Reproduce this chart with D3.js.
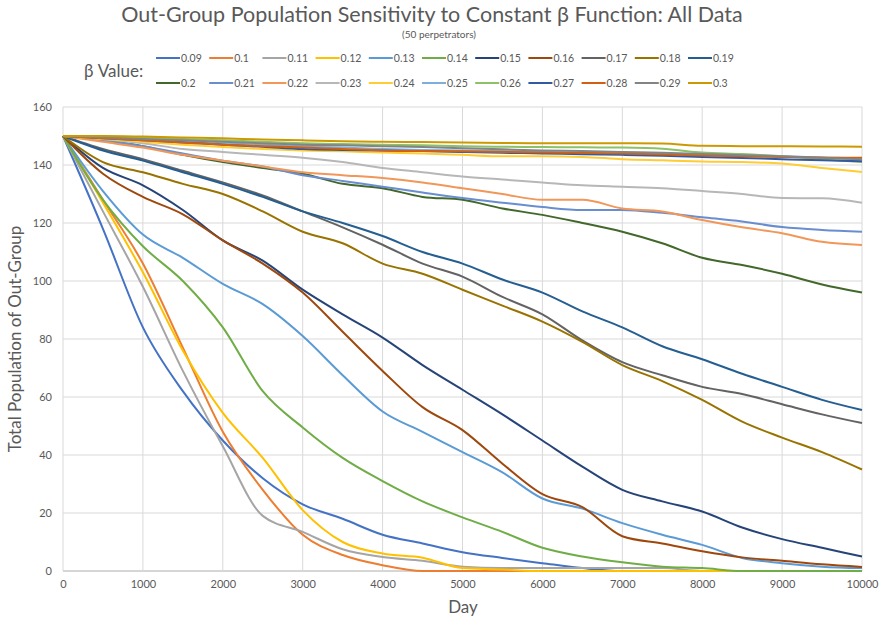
<!DOCTYPE html>
<html>
<head>
<meta charset="utf-8">
<script src="https://cdn.jsdelivr.net/npm/d3@7"></script>
<style>
  body { margin: 0; background: #fff; }
  svg { display: block; font-family: Lato, "Open Sans", sans-serif; }
</style>
</head>
<body>
<svg id="chart" width="880" height="622"></svg>
<script>
// days sampled every 500
var days = [0,500,1000,1500,2000,2500,3000,3500,4000,4500,5000,5500,6000,6500,7000,7500,8000,8500,9000,9500,10000]
var betas = ['0.09','0.1','0.11','0.12','0.13','0.14','0.15','0.16','0.17','0.18','0.19',
             '0.2','0.21','0.22','0.23','0.24','0.25','0.26','0.27','0.28','0.29','0.3']
var colors = ['#4472C4','#ED7D31','#A5A5A5','#FFC000','#5B9BD5','#70AD47','#264478','#9E480E','#636363','#997300','#255E91',
              '#43682B','#698ED0','#F1975A','#B7B7B7','#FFCD33','#7CAFDD','#8CC168','#335AA1','#D26012','#848484','#CC9A00']

var b009 = [150,118,84,62,45,32,23,18,12.5,9.5,6.5,4.5,2.7,1,0,0,0,0,0,0,0]
var b010 = [150,128,106,77,48,28,12.5,5.5,2,0,0,0,0,0,0,0,0,0,0,0,0]
var b011 = [150,124,98,69,43,19,13.5,7.5,4.8,3.5,1.5,1,1,1,1,1,0,0,0,0,0]
var b012 = [150,127,103,76,54.5,39,21,10,6,4.6,1,0.5,0,0,0,0,0,0,0,0,0]
var b013 = [150,131,116,108,99,92,81,67.5,55,48,41,34,25,21.5,16.5,12.5,9,4.5,2.7,1.5,1]
var b014 = [150,128,112,100,84,62,49.5,39,31,24,18.5,13.5,8,5,3,1.5,1,0,0,0,0]
var b015 = [150,139,133,124.5,114,107,97,88.5,80.5,71,62.5,54,45,36,28,24,20.5,15,11,8,5]
var b016 = [150,137,129,123,114,106,96,82.5,69,56.5,48.6,37,26.5,22,12,9.5,6.8,4.7,3.5,2.3,1.4]
var b017 = [150,145.5,142,138,134,129.5,124,118.5,112.5,106,101.5,94.5,88.5,79.5,72,67.5,63.5,61,57.5,54,51]
var b018 = [150,141,137.5,133.5,130,124,117,113,106,102.5,97,91.5,86,79,71,65.5,59,51.5,46,41,35]
var b019 = [150,145,141.5,137.5,133.5,129,124,120,115.5,110,106,100.5,96,89.5,84,77.5,73,68,63.5,59,55.5]
var b020 = [150,148.5,146.5,143.5,141,139,137,133.5,132,129,128,125,122.8,120,117,113,108,105.5,102.5,98.8,96]
var b021 = [150,148.5,146.5,144,141.5,139.5,136.5,134.5,132.5,130.5,128.6,127,125.5,124.5,124.5,123.5,122,120.5,118.6,117.6,117]
var b022 = [150,148,146,143.5,141.5,139.5,137.5,136.5,135.5,134,132,130,128,128,125,124,121,118.5,116.5,113.5,112.4]
var b023 = [150,149,147.5,145.5,144.5,143.5,142.5,141,139,137.5,136,135,134,133,132.5,132,131,130,128.6,128.5,127]
var b024 = [150,149,148,147,146.2,145.5,145,144.7,144.3,144,143.5,143,143,142.8,142,141.6,141.2,141,140.5,139,137.6]
var b025 = [150,149.5,149,148.2,147.5,147,146.5,146,145.5,145.2,145,144.8,144.5,144.2,144,143.8,143.5,143.2,143,142.5,141.8]
var b026 = [150,149.8,149.5,149,148.5,148,147.5,147.2,147,146.8,146.5,146.3,146.2,146.1,146,145.6,144.3,143.8,143,142,141]
var b027 = [150,149.2,148.5,147.8,147,146.3,145.5,145.2,145,144.8,144.5,144.2,144,143.7,143.5,143.2,142.8,142.4,142,141.6,141.3]
var b028 = [150,149.2,148.5,147.8,147,146.5,146,145.5,145,144.8,144.7,144.5,144.3,144.2,144,143.6,143.3,143,142.8,142.6,142.5]
var b029 = [150,149.5,149,148.5,148,147.5,147,146.8,146.5,146.2,145.8,145.4,145,144.8,144.5,144.2,143.8,143.4,143,142.5,142]
var b030 = [150,150,149.8,149.5,149.2,148.8,148.5,148.2,148,147.9,147.8,147.6,147.5,147.5,147.5,147.4,146.6,146.5,146.5,146.4,146.3]

var values = [b009,b010,b011,b012,b013,b014,b015,b016,b017,b018,b019,b020,b021,b022,b023,b024,b025,b026,b027,b028,b029,b030]
var series = betas.map((b,i)=>({name:b, color:colors[i], pts:days.map((d,j)=>[d,values[i][j]])}))

var svg = d3.select('#chart')
var W = 880, H = 622
var margin = {left:63, right:18, top:107, bottom:51}
var textCol = '#595959'

var x = d3.scaleLinear().domain([0,10000]).range([margin.left, W-margin.right])
var y = d3.scaleLinear().domain([0,160]).range([H-margin.bottom, margin.top])

// gridlines
var grid = svg.append('g')
grid.selectAll('line.h').data(y.ticks(8)).join('line')
    .attr('x1',x(0)).attr('x2',x(10000))
    .attr('y1',d=>y(d)).attr('y2',d=>y(d))
    .attr('stroke',d=>d==0?'#c8c8c8':'#d9d9d9').attr('stroke-width',d=>d==0?1.5:1)
grid.selectAll('line.v').data(x.ticks(10)).join('line')
    .attr('y1',y(0)).attr('y2',y(160))
    .attr('x1',d=>x(d)).attr('x2',d=>x(d))
    .attr('stroke','#d9d9d9').attr('stroke-width',1)

// axes labels
var yAxis = d3.axisLeft(y).ticks(8).tickSize(0).tickPadding(11)
var xAxis = d3.axisBottom(x).ticks(10).tickSize(0).tickPadding(9).tickFormat(d3.format('d'))
var gy = svg.append('g').attr('transform',`translate(${margin.left},0)`).call(yAxis)
var gx = svg.append('g').attr('transform',`translate(0,${H-margin.bottom})`).call(xAxis)
;[gx,gy].forEach(g=>{
    g.select('.domain').remove()
    g.selectAll('text').attr('fill',textCol).style('font-size','11px')
        .style('font-family','Lato, "Open Sans", sans-serif')
})

// lines
var lineGen = d3.line().x(d=>x(d[0])).y(d=>y(d[1])).curve(d3.curveMonotoneX)
svg.append('g').selectAll('path').data(series).join('path')
    .attr('d',d=>lineGen(d.pts))
    .attr('fill','none')
    .attr('stroke',d=>d.color)
    .attr('stroke-width',2)
    .attr('stroke-linejoin','round')

// titles
svg.append('text').attr('x',432).attr('y',22).attr('text-anchor','middle')
    .attr('fill',textCol).style('font-size','21.5px')
    .text('Out-Group Population Sensitivity to Constant β Function: All Data')
svg.append('text').attr('x',439).attr('y',38).attr('text-anchor','middle')
    .attr('fill',textCol).style('font-size','10px')
    .text('(50 perpetrators)')
svg.append('text').attr('x',84).attr('y',77)
    .attr('fill',textCol).style('font-size','17px')
    .text('β Value:')
svg.append('text').attr('x',463).attr('y',613).attr('text-anchor','middle')
    .attr('fill',textCol).style('font-size','17px')
    .text('Day')
svg.append('text').attr('transform',`translate(21,${y(80)}) rotate(-90)`).attr('text-anchor','middle')
    .attr('fill',textCol).style('font-size','17px')
    .text('Total Population of Out-Group')

// legend
var lg = svg.append('g').selectAll('g').data(series).join('g')
    .attr('transform',(d,i)=>`translate(${156+(i%11)*53.2},${58+Math.floor(i/11)*25})`)
lg.append('line').attr('x1',0).attr('x2',24).attr('y1',0).attr('y2',0)
    .attr('stroke',d=>d.color).attr('stroke-width',2)
lg.append('text').attr('x',25).attr('y',3.5).attr('fill',textCol).style('font-size','10.5px')
    .text(d=>d.name)
</script>
</body>
</html>
